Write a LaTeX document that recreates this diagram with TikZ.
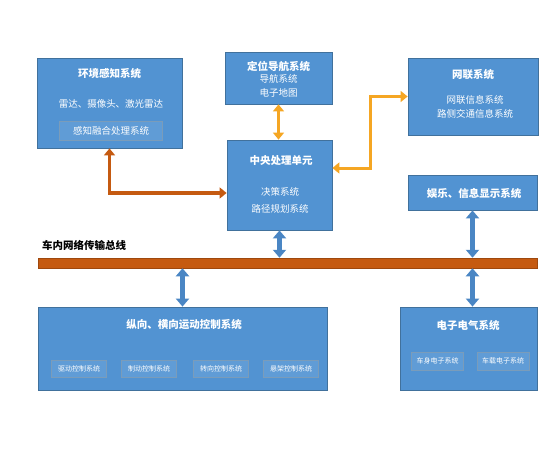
\documentclass[tikz,border=0pt]{standalone}
\usepackage{fontspec}
\newfontfamily\cjk{Noto Sans CJK SC}
\usetikzlibrary{positioning,arrows.meta}
\definecolor{boxblue}{HTML}{5293D2}
\definecolor{boxedge}{HTML}{41719C}
\definecolor{busbrown}{HTML}{C55A11}
\definecolor{gold}{HTML}{F5A623}
\definecolor{linkblue}{HTML}{4A86C4}

\begin{document}
\begin{tikzpicture}[x=1pt ,y=-1pt ,
sysbox/.style ={ rectangle ,draw =boxedge ,fill =boxblue ,line width =0.8pt ,inner sep =0pt},
subbox/.style ={ rectangle ,draw =boxedge!70 ,fill =boxblue!92!white ,inner sep =0pt ,
text =white ,font =\cjk\fontsize{7}{8}\selectfont},
title/.style ={ text =white ,font =\cjk\bfseries\fontsize{10.5}{12}\selectfont},
item/.style ={ text =white ,font =\cjk\fontsize{9.5}{11}\selectfont ,inner sep =1pt},
brownlink/.style ={ {Triangle[width=11pt,length=7pt]}-{Triangle[width=11pt,length=7pt]} ,draw =busbrown ,line width =3.5pt},
goldlink/.style ={ {Triangle[width=11pt,length=7pt]}-{Triangle[width=11pt,length=7pt]} ,draw =gold ,line width =3pt},
buslink/.style ={ {Triangle[width=13pt,length=8pt]}-{Triangle[width=13pt,length=8pt]} ,draw =linkblue ,line width =5pt}
]
\useasboundingbox (0,0) rectangle (560,450);
% upper systems
\node[sysbox ,minimum width =145pt ,minimum height =90pt] (env) at (109.5,103) {};
\node[title] (envT) at (109.5,73) {环境感知系统};
\node[item] (envA) at (111,104) {雷达、摄像头、激光雷达};
\node[subbox ,minimum width =103pt ,minimum height =19pt ,font =\cjk\fontsize{9.5}{11}\selectfont] (envB) at (111,130.5) {感知融合处理系统};
\node[sysbox ,minimum width =107pt ,minimum height =52pt] (nav) at (278.5,78) {};
\node[title] (navT) at (278.5,66) {定位导航系统};
\node[item] (navA) at (278.5,79) {导航系统};
\node[item] (navB) at (278.5,93) {电子地图};
\node[sysbox ,minimum width =130pt ,minimum height =77pt] (net) at (473,96.5) {};
\node[title] (netT) at (473,75) {网联系统};
\node[item] (netA) at (475,100) {网联信息系统};
\node[item] (netB) at (475,114) {路侧交通信息系统};
\node[sysbox ,minimum width =105pt ,minimum height =90pt] (cpu) at (279.5,185) {};
\node[title] (cpuT) at (281,161) {中央处理单元};
\node[item] (cpuA) at (280,192) {决策系统};
\node[item] (cpuB) at (280,209) {路径规划系统};
\node[sysbox ,minimum width =129pt ,minimum height =35pt] (ent) at (472.5,192.5) {};
\node[title] (entT) at (474,193) {娱乐、信息显示系统};
% bus
\node[rectangle ,fill =busbrown ,draw =busbrown!80!black ,line width =0.5pt ,minimum width =499pt ,minimum height =10pt ,inner sep =0pt] (bus) at (287.5,263) {};
\node[anchor =west ,font =\cjk\bfseries\fontsize{10.5}{12}\selectfont ,inner sep =0pt] (busT) at (42,245) {车内网络传输总线};
% lower systems
\node[sysbox ,minimum width =289pt ,minimum height =83pt] (ctrl) at (182.5,348.5) {};
\node[title] (ctrlT) at (184,325) {纵向、横向运动控制系统};
\node[subbox ,minimum width =55pt ,minimum height =17pt] (ctrlA) at (79,368.5) {驱动控制系统};
\node[subbox ,minimum width =55pt ,minimum height =17pt] (ctrlB) at (149,368.5) {制动控制系统};
\node[subbox ,minimum width =55pt ,minimum height =17pt] (ctrlC) at (221,368.5) {转向控制系统};
\node[subbox ,minimum width =55pt ,minimum height =17pt] (ctrlD) at (291,368.5) {悬架控制系统};
\node[sysbox ,minimum width =137pt ,minimum height =83pt] (elec) at (468.5,348.5) {};
\node[title] (elecT) at (468,325) {电子电气系统};
\node[subbox ,minimum width =52pt ,minimum height =18pt] (elecA) at (437.5,361) {车身电子系统};
\node[subbox ,minimum width =52pt ,minimum height =18pt] (elecB) at (503,361) {车载电子系统};
% links
\draw[brownlink] (env.south) |- ([yshift=-8pt]cpu.west);
\draw[goldlink] (nav.south) -- (nav.south |- cpu.north);
\draw[goldlink] ([yshift=17pt]cpu.east) -- ++(38,0) |- (net.west);
\draw[buslink] (cpu.south) -- (cpu.south |- bus.north);
\draw[buslink] (ctrl.north |- bus.south) -- (ctrl.north);
\draw[buslink] (ent.south) -- (ent.south |- bus.north);
\draw[buslink] (ent.south |- bus.south) -- (ent.south |- elec.north);
\end{tikzpicture}
\end{document}
